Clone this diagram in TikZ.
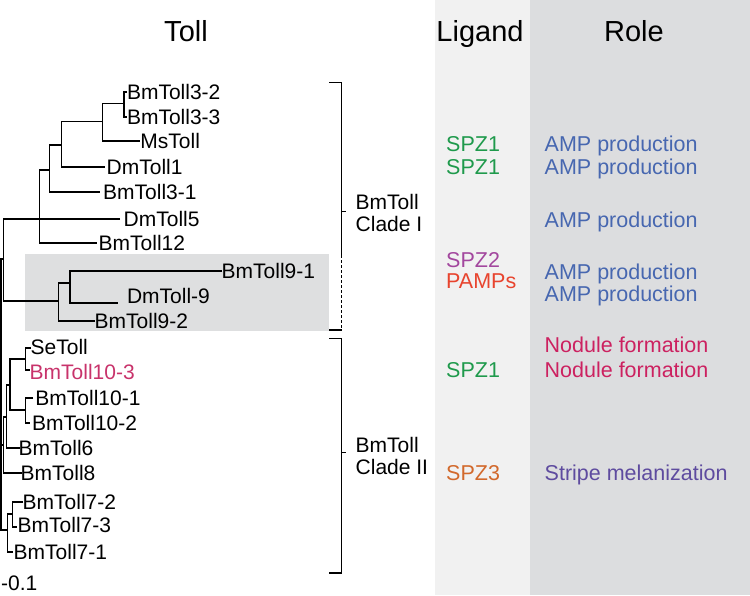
\documentclass[tikz,border=0pt]{standalone}
\usepackage{fontspec}
\setmainfont{Liberation Sans}
\definecolor{ligbg}{HTML}{F1F1F1}
\definecolor{rolebg}{HTML}{DCDDDF}
\definecolor{boxbg}{HTML}{DEDFE0}
\definecolor{spzgreen}{HTML}{1F9A4C}
\definecolor{spzpurple}{HTML}{A3479E}
\definecolor{pampred}{HTML}{E8442E}
\definecolor{spzorange}{HTML}{D2692C}
\definecolor{ampblue}{HTML}{4767B0}
\definecolor{nodred}{HTML}{CC2160}
\definecolor{stripecol}{HTML}{5E4B9F}
\definecolor{tollred}{HTML}{C8336B}
\newcommand\treefont{\fontsize{21}{22}\selectfont}
\newcommand\colfont{\fontsize{21.5}{22}\selectfont}
\newcommand\headfont{\fontsize{29}{30}\selectfont}
\begin{document}
\begin{tikzpicture}[x=1pt,y=-1pt,
  tree/.style={line width=1.2pt, line join=miter},
  brk/.style={line width=1.2pt},
  leaf/.style={anchor=west, inner sep=0pt, font=\treefont, text height=15pt, text depth=0pt},
  colt/.style={anchor=west, inner sep=0pt, font=\colfont, text height=15.4pt, text depth=0pt},
  head/.style={anchor=base, inner sep=0pt, font=\headfont},
  cladelbl/.style={anchor=west, inner sep=0pt, font=\treefont, align=left}]
\useasboundingbox (0,0) rectangle (750,595);
% column backgrounds
\fill[ligbg] (435,0) rectangle (530,595);
\fill[rolebg] (530,0) rectangle (750,595);
% highlighted clade box
\fill[boxbg] (25,254) rectangle (329,330.7);
% headings
\node[head] (hToll) at (186,41) {Toll};
\node[head] (hLig) at (480,41) {Ligand};
\node[head] (hRole) at (634,41) {Role};
% leaf labels
\node[leaf] (l1) at (126.8,92) {BmToll3-2};
\node[leaf] (l2) at (126.8,117) {BmToll3-3};
\node[leaf] (l3) at (140.2,141) {MsToll};
\node[leaf] (l4) at (106.5,167) {DmToll1};
\node[leaf] (l5) at (103,192) {BmToll3-1};
\node[leaf] (l6) at (123.5,219) {DmToll5};
\node[leaf] (l7) at (98.5,243) {BmToll12};
\node[leaf] (l8) at (221.5,271) {BmToll9-1};
\node[leaf] (l9) at (126.8,296) {DmToll-9};
\node[leaf] (l10) at (94.5,320.5) {BmToll9-2};
\node[leaf] (l11) at (30.5,347) {SeToll};
\node[leaf,text=tollred] (l12) at (29.5,371.5) {BmToll10-3};
\node[leaf] (l13) at (35.2,398) {BmToll10-1};
\node[leaf] (l14) at (31.8,422.7) {BmToll10-2};
\node[leaf] (l15) at (18.5,448) {BmToll6};
\node[leaf] (l16) at (20.5,473) {BmToll8};
\node[leaf] (l17) at (22.5,501.5) {BmToll7-2};
\node[leaf] (l18) at (17.5,525) {BmToll7-3};
\node[leaf] (l19) at (13.5,551.5) {BmToll7-1};
\node[leaf] (scale) at (1,583) {-0.1};
% tree: clade I
\draw[tree] (127,92) -| (124,117) -- (127,117);
\draw[tree] (124,103.3) -| (102.7,141) -- (140,141);
\draw[tree] (102.7,121.7) -| (61.7,167) -- (105,167);
\draw[tree] (61.7,145) -| (49.3,192) -- (100,192);
\draw[tree] (49.3,170) -| (39.3,243) -- (97,243);
\draw[tree] (120,219) -- (3.3,219) -- (3.3,301) -- (58.3,301);
% Toll9 clade
\draw[tree] (222,271) -| (70,303) -- (118,303);
\draw[tree] (70,283) -| (58.3,321) -- (95,321);
% root
\draw[tree] (3.3,259) -- (1,259) -- (1,530) -- (7.3,530);
% clade II
\draw[tree] (31,348) -| (25.3,370) -- (30,370);
\draw[tree] (33,398) -| (25.3,423) -- (30,423);
\draw[tree] (25.3,359) -| (10,410) -- (25.3,410);
\draw[tree] (10,385) -| (6.7,448) -- (20,448);
\draw[tree] (6.7,417) -| (3.3,473) -- (21.7,473);
\draw[tree] (1,445) -- (3.3,445);
\draw[tree] (23,502) -| (12.3,527) -- (17,527);
\draw[tree] (12.3,514) -| (7.3,552) -- (13.3,552);
% brackets
\coordinate (b1t) at (341.7,82.7);
\coordinate (b1d) at (341.7,255);
\coordinate (b1b) at (341.7,330);
\draw[brk] (329,82.7) -- (b1t) -- (b1d);
\draw[brk, dash pattern=on 3pt off 2pt] (b1d) -- (b1b);
\draw[brk] (b1b) -- (329,330);
\draw[brk] (341.7,211.7) -- (346,211.7);
\node[cladelbl] (c1) at (355.5,212.5) {BmToll\\Clade I};
\coordinate (b2t) at (341.7,338.3);
\coordinate (b2b) at (341.7,573);
\draw[brk] (329,338.3) -- (b2t) -- (b2b) -- (329,573);
\draw[brk] (341.7,452.7) -- (346,452.7);
\node[cladelbl] (c2) at (355.5,455.5) {BmToll\\Clade II};
% ligand column
\node[colt,text=spzgreen] (g1) at (446,143.3) {SPZ1};
\node[colt,text=spzgreen] (g2) at (446,166.7) {SPZ1};
\node[anchor=west, inner sep=0pt, align=left, font=\fontsize{21.5}{21}\selectfont] (g3) at (446,270.4) {\textcolor{spzpurple}{SPZ2}\\\textcolor{pampred}{PAMPs}};
\node[colt,text=spzgreen] (g5) at (446,370) {SPZ1};
\node[colt,text=spzorange] (g6) at (446,472.7) {SPZ3};
% role column
\node[colt,text=ampblue] (r1) at (544.5,143.3) {AMP production};
\node[colt,text=ampblue] (r2) at (544.5,166.7) {AMP production};
\node[colt,text=ampblue] (r3) at (544.5,219.3) {AMP production};
\node[colt,text=ampblue] (r4) at (544.5,271.7) {AMP production};
\node[colt,text=ampblue] (r5) at (544.5,293.3) {AMP production};
\node[colt,text=nodred] (r6) at (544.5,345) {Nodule formation};
\node[colt,text=nodred] (r7) at (544.5,370) {Nodule formation};
\node[colt,text=stripecol] (r8) at (544.5,472.7) {Stripe melanization};
\end{tikzpicture}
\end{document}
